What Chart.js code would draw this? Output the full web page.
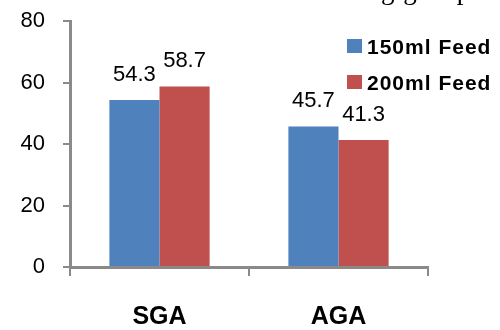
<!DOCTYPE html>
<html>
<head>
<meta charset="utf-8">
<style>
  html, body { margin: 0; padding: 0; background: #ffffff; }
  #wrap { width: 500px; height: 330px; }
</style>
<script src="https://cdn.jsdelivr.net/npm/chart.js@4.4.0/dist/chart.umd.min.js"></script>
</head>
<body>
<div id="wrap"><canvas id="c" width="500" height="330"></canvas></div>
<script>
// Chart data
const categories = ['SGA', 'AGA'];
const seriesNames = ['150ml Feed', '200ml Feed'];
const feed150 = [54.3, 45.7];
const feed200 = [58.7, 41.3];
const yTicks = [0, 20, 40, 60, 80];
const titleText = 'feeding group';

const seriesColors = ['#4F81BD', '#C0504D'];
const axisGray = '#8a8a8a';

// Value labels above each bar
const valueLabels = {
  id: 'valueLabels',
  afterDatasetsDraw(chart) {
    const ctx = chart.ctx;
    ctx.save();
    ctx.font = '22px "Liberation Sans", Arial, sans-serif';
    ctx.fillStyle = '#000';
    ctx.textAlign = 'center';
    ctx.textBaseline = 'alphabetic';
    chart.data.datasets.forEach((ds, i) => {
      chart.getDatasetMeta(i).data.forEach((bar, j) => {
        ctx.fillText(ds.data[j].toFixed(1), bar.x, bar.y - 19);
      });
    });
    ctx.restore();
  }
};

// Legend in the upper right of the plot
const sideLegend = {
  id: 'sideLegend',
  afterDraw(chart) {
    const ctx = chart.ctx;
    ctx.save();
    ctx.font = 'bold 21px "Liberation Sans", Arial, sans-serif';
    ctx.letterSpacing = '1px';
    ctx.textAlign = 'left';
    ctx.textBaseline = 'alphabetic';
    chart.data.datasets.forEach((ds, i) => {
      const top = 39 + i * 36;
      ctx.fillStyle = ds.backgroundColor;
      ctx.fillRect(347, top, 15, 14);
      ctx.fillStyle = '#000';
      ctx.fillText(ds.label, 367, top + 15);
    });
    ctx.restore();
  }
};

// Heading text running along the top edge
const topHeading = {
  id: 'topHeading',
  afterDraw(chart) {
    const ctx = chart.ctx;
    ctx.save();
    ctx.font = '27px "Liberation Serif", "Times New Roman", serif';
    ctx.letterSpacing = '1px';
    ctx.fillStyle = '#000';
    ctx.textAlign = 'left';
    ctx.textBaseline = 'alphabetic';
    const lead = ctx.measureText('feedin').width;
    ctx.fillText(titleText, 381 - lead, -1);
    ctx.restore();
  }
};

new Chart(document.getElementById('c'), {
  type: 'bar',
  data: {
    labels: categories,
    datasets: [
      { label: seriesNames[0], data: feed150, backgroundColor: seriesColors[0] },
      { label: seriesNames[1], data: feed200, backgroundColor: seriesColors[1] }
    ]
  },
  options: {
    responsive: false,
    animation: false,
    devicePixelRatio: 1,
    datasets: {
      bar: { barPercentage: 1.0, categoryPercentage: 0.56 }
    },
    layout: { padding: { top: 21, right: 72, left: 0, bottom: 0 } },
    plugins: {
      legend: { display: false },
      title: { display: false },
      tooltip: { enabled: false }
    },
    scales: {
      x: {
        grid: {
          offset: true,
          drawOnChartArea: false,
          drawTicks: true,
          tickLength: 9,
          color: axisGray,
          lineWidth: 2
        },
        border: { display: true, color: axisGray, width: 3 },
        ticks: {
          color: '#000',
          padding: 26,
          font: { family: '"Liberation Sans", Arial, sans-serif', size: 25, weight: 'bold' }
        },
        afterFit(scale) {
          scale.height = 63;
          scale.paddingLeft = 0;
          scale.paddingRight = 0;
        }
      },
      y: {
        min: yTicks[0],
        max: yTicks[yTicks.length - 1],
        afterBuildTicks(scale) { scale.ticks = yTicks.map(v => ({ value: v })); },
        grid: {
          drawOnChartArea: false,
          drawTicks: true,
          tickLength: 7,
          color: axisGray,
          lineWidth: 2
        },
        border: { display: true, color: axisGray, width: 3 },
        ticks: {
          color: '#000',
          padding: 18,
          font: { family: '"Liberation Sans", Arial, sans-serif', size: 22 }
        },
        afterFit(scale) {
          scale.width = 70;
          scale.paddingTop = 0;
          scale.paddingBottom = 0;
        }
      }
    }
  },
  plugins: [valueLabels, sideLegend, topHeading]
});
</script>
</body>
</html>
